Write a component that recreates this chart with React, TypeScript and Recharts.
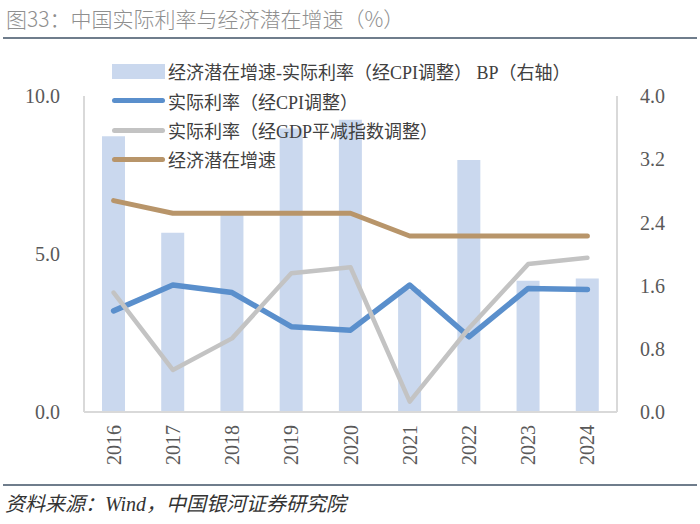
import React from "react";
import { ComposedChart, Bar, Line, XAxis, YAxis } from "recharts";

// values
const years = ["2016", "2017", "2018", "2019", "2020", "2021", "2022", "2023", "2024"];
const spreadBp = [3.49, 2.27, 2.51, 3.59, 3.7, 1.55, 3.19, 1.66, 1.69];
const realRateCpi = [3.2, 4.02, 3.78, 2.7, 2.59, 4.02, 2.38, 3.91, 3.88];
const realRateGdp = [3.78, 1.33, 2.33, 4.39, 4.58, 0.33, 2.65, 4.68, 4.88];
const potentialGrowth = [6.69, 6.29, 6.29, 6.29, 6.29, 5.57, 5.57, 5.57, 5.57];

const leftTicks = [0, 5, 10];
const rightTicks = [0, 0.8, 1.6, 2.4, 3.2, 4.0];

const seriesNames = [
  "经济潜在增速-实际利率（经CPI调整） BP（右轴）",
  "实际利率（经CPI调整）",
  "实际利率（经GDP平减指数调整）",
  "经济潜在增速",
];

const COLORS = {
  bar: "#cad8ee",
  cpi: "#5a8fcc",
  gdp: "#c3c3c3",
  growth: "#b8956a",
  axis: "#d9d9d9",
  tick: "#595959",
};

const data = years.map((y, i) => ({
  year: y,
  spread: spreadBp[i],
  cpi: realRateCpi[i],
  gdp: realRateGdp[i],
  growth: potentialGrowth[i],
}));

const SERIF = "'Liberation Serif', 'Noto Sans CJK SC', serif";

function YearTick({ x, y, payload }: any) {
  return (
    <text
      x={x}
      y={y}
      transform={`rotate(-90 ${x} ${y})`}
      textAnchor="end"
      dominantBaseline="central"
      fontFamily={SERIF}
      fontSize={20}
      fill={COLORS.tick}
    >
      {payload.value}
    </text>
  );
}

const legendRows = [
  { name: seriesNames[0], color: COLORS.bar, kind: "bar", y: 71 },
  { name: seriesNames[1], color: COLORS.cpi, kind: "line", y: 100.5 },
  { name: seriesNames[2], color: COLORS.gdp, kind: "line", y: 130 },
  { name: seriesNames[3], color: COLORS.growth, kind: "line", y: 159 },
];

export default function App() {
  return (
    <div
      style={{
        position: "absolute",
        left: 0,
        top: 0,
        width: 700,
        height: 524,
        background: "#fff",
        overflow: "hidden",
      }}
    >
      <div
        style={{
          position: "absolute",
          left: 6,
          top: 4,
          fontFamily: "'Noto Sans CJK SC', sans-serif",
          fontWeight: 300,
          fontSize: 21,
          lineHeight: "28px",
          color: "#8f8f8f",
          whiteSpace: "nowrap",
        }}
      >
        图33：中国实际利率与经济潜在增速（%）
      </div>
      <div style={{ position: "absolute", left: 3, right: 3, top: 37, height: 2, background: "#6f7d8c" }} />

      <div style={{ position: "absolute", left: 0, top: 0 }}>
        <ComposedChart
          width={700}
          height={524}
          data={data}
          margin={{ top: 96, right: 0, bottom: 52, left: 0 }}
        >
          <XAxis
            dataKey="year"
            height={60}
            stroke={COLORS.axis}
            strokeWidth={2}
            tickLine={false}
            tickMargin={7}
            tick={<YearTick />}
            interval={0}
          />
          <YAxis
            yAxisId="left"
            width={84}
            domain={[0, 10]}
            ticks={leftTicks}
            tickFormatter={(v: number) => v.toFixed(1)}
            stroke={COLORS.axis}
            strokeWidth={2}
            tickLine={false}
            tickMargin={18}
            tick={{ fontFamily: SERIF, fontSize: 20, fill: COLORS.tick }}
          />
          <YAxis
            yAxisId="right"
            orientation="right"
            width={83}
            domain={[0, 4]}
            ticks={rightTicks}
            tickFormatter={(v: number) => v.toFixed(1)}
            stroke={COLORS.axis}
            strokeWidth={2}
            tickLine={false}
            tickMargin={17}
            tick={{ fontFamily: SERIF, fontSize: 20, fill: COLORS.tick }}
          />
          <Bar
            yAxisId="right"
            dataKey="spread"
            name={seriesNames[0]}
            fill={COLORS.bar}
            barSize={23}
            isAnimationActive={false}
          />
          <Line
            yAxisId="left"
            dataKey="cpi"
            name={seriesNames[1]}
            stroke={COLORS.cpi}
            strokeWidth={5.5}
            strokeLinecap="round"
            strokeLinejoin="round"
            dot={false}
            isAnimationActive={false}
          />
          <Line
            yAxisId="left"
            dataKey="gdp"
            name={seriesNames[2]}
            stroke={COLORS.gdp}
            strokeWidth={4.5}
            strokeLinecap="round"
            strokeLinejoin="round"
            dot={false}
            isAnimationActive={false}
          />
          <Line
            yAxisId="left"
            dataKey="growth"
            name={seriesNames[3]}
            stroke={COLORS.growth}
            strokeWidth={5}
            strokeLinecap="round"
            strokeLinejoin="round"
            dot={false}
            isAnimationActive={false}
          />
        </ComposedChart>
      </div>

      {legendRows.map((r) => (
        <div
          key={r.name}
          style={{
            position: "absolute",
            left: 112,
            top: r.y - 13,
            height: 26,
            display: "flex",
            alignItems: "center",
            whiteSpace: "nowrap",
          }}
        >
          <div
            style={{
              width: 53,
              height: r.kind === "bar" ? 15 : 5,
              borderRadius: r.kind === "bar" ? 0 : 3,
              background: r.color,
              marginRight: 3,
            }}
          />
          <span style={{ fontFamily: SERIF, fontSize: 18, color: "#404040" }}>{r.name}</span>
        </div>
      ))}

      <div style={{ position: "absolute", left: 3, right: 3, top: 484, height: 2, background: "#6f7d8c" }} />
      <div
        style={{
          position: "absolute",
          left: 5,
          top: 490,
          fontFamily: SERIF,
          fontStyle: "italic",
          fontSize: 20,
          lineHeight: "28px",
          color: "#333",
          whiteSpace: "nowrap",
        }}
      >
        资料来源：Wind，中国银河证券研究院
      </div>
    </div>
  );
}
